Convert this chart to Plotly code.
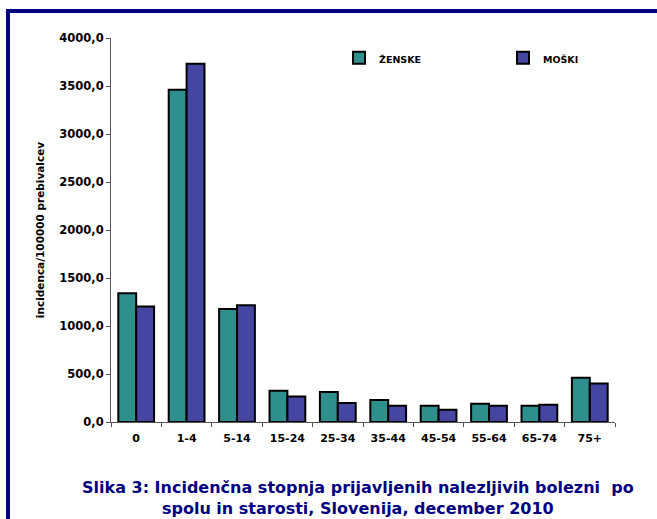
import plotly.graph_objects as go

categories = ["0", "1-4", "5-14", "15-24", "25-34", "35-44", "45-54", "55-64", "65-74", "75+"]
zenske = [1341, 3462, 1178, 325, 312, 229, 170, 190, 170, 461]
moski = [1202, 3732, 1216, 266, 198, 170, 128, 170, 180, 401]
y_ticks = [0, 500, 1000, 1500, 2000, 2500, 3000, 3500, 4000]

W, H = 657, 519
L, R, T, B = 111, 42, 38, 97
pw, ph = W - L - R, H - T - B

def px(x):
    return (x - L) / pw

def py(y):
    return (H - B - y) / ph

font = "DejaVu Sans, Verdana, sans-serif"
legfont = dict(family=font, size=9.5, color="#000000", weight="bold")

fig = go.Figure()
fig.add_trace(go.Bar(
    x=categories, y=zenske, name="ŽENSKE", legend="legend",
    marker=dict(color="#2f8f8c", line=dict(color="#000000", width=2)),
))
fig.add_trace(go.Bar(
    x=categories, y=moski, name="MOŠKI", legend="legend2",
    marker=dict(color="#4545a2", line=dict(color="#000000", width=2)),
))

fig.update_layout(
    width=W, height=H,
    margin=dict(l=L, r=R, t=T, b=B),
    paper_bgcolor="white", plot_bgcolor="white",
    barmode="group", bargap=0.29, bargroupgap=0,
    separators=",.",
    font=dict(family=font, color="#000000"),
    showlegend=True,
    legend=dict(
        orientation="h", x=px(339), y=py(45), xanchor="left", yanchor="top",
        font=legfont, bgcolor="rgba(0,0,0,0)", valign="top",
    ),
    legend2=dict(
        orientation="h", x=px(503), y=py(45), xanchor="left", yanchor="top",
        font=legfont, bgcolor="rgba(0,0,0,0)", valign="top",
    ),
    xaxis=dict(
        showline=True, linecolor="#555555", linewidth=1,
        ticks="outside", ticklen=4, tickcolor="#555555", tickson="boundaries",
        ticklabelstandoff=6,
        tickfont=dict(family=font, size=11, weight="bold"),
        showgrid=False, zeroline=False,
    ),
    yaxis=dict(
        range=[0, 4000], tickvals=y_ticks, tickformat=".1f",
        showline=True, linecolor="#555555", linewidth=1,
        ticks="outside", ticklen=4, tickcolor="#555555",
        tickfont=dict(family=font, size=11.5, weight="bold"),
        showgrid=False, zeroline=False,
        title=dict(text="incidenca/100000 prebivalcev", standoff=12,
                   font=dict(family=font, size=10.5, weight="bold")),
    ),
    shapes=[
        dict(type="rect", xref="paper", yref="paper",
             x0=px(6), x1=px(657), y0=py(13), y1=py(9),
             fillcolor="#000080", line=dict(width=0)),
        dict(type="rect", xref="paper", yref="paper",
             x0=px(6), x1=px(10), y0=py(519), y1=py(9),
             fillcolor="#000080", line=dict(width=0)),
    ],
    annotations=[
        dict(text="Slika 3: Incidenčna stopnja prijavljenih nalezljivih bolezni  po<br>spolu in starosti, Slovenija, december 2010",
             xref="paper", yref="paper", x=px(358), y=py(498),
             xanchor="center", yanchor="middle", showarrow=False,
             font=dict(family=font, size=16, color="#000080", weight="bold")),
    ],
)

fig.write_html("out.html", config={"displayModeBar": False},
               post_script="document.body.style.margin='0px';")
